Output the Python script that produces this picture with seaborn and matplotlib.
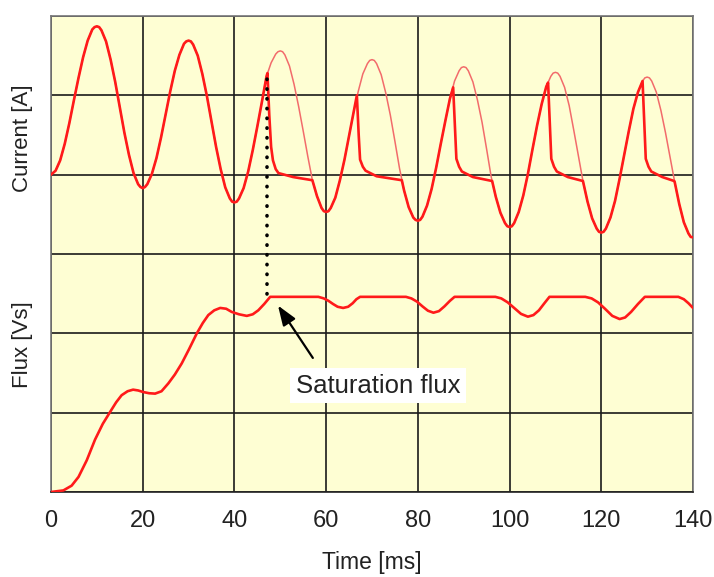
import matplotlib
matplotlib.use("Agg")
import matplotlib.pyplot as plt
import seaborn as sns

# grid units: 6 rows, current lives in rows 3..6, flux in rows 0..3
# current without saturation (thin curve), 1 ms steps
t_free = list(range(0, 141))
i_free = [4.00, 4.05, 4.18, 4.39, 4.65, 4.94, 5.22, 5.48, 5.69, 5.83, 5.87,
          5.82, 5.68, 5.45, 5.17, 4.85, 4.53, 4.25, 4.02, 3.88, 3.83,
          3.88, 4.01, 4.21, 4.47, 4.76, 5.05, 5.31, 5.51, 5.65, 5.69,
          5.64, 5.50, 5.27, 4.99, 4.67, 4.35, 4.07, 3.84, 3.70, 3.65,
          3.70, 3.83, 4.04, 4.31, 4.61, 4.92, 5.24, 5.41, 5.52, 5.56,
          5.51, 5.37, 5.14, 4.86, 4.55, 4.23, 3.93, 3.73, 3.58, 3.53,
          3.58, 3.71, 3.93, 4.19, 4.49, 4.79, 5.05, 5.27, 5.40, 5.45,
          5.40, 5.26, 5.03, 4.75, 4.42, 4.08, 3.80, 3.59, 3.46, 3.42,
          3.47, 3.61, 3.82, 4.09, 4.39, 4.68, 4.96, 5.18, 5.31, 5.36,
          5.31, 5.17, 4.94, 4.66, 4.32, 3.97, 3.72, 3.52, 3.39, 3.34,
          3.39, 3.53, 3.74, 4.01, 4.32, 4.62, 4.89, 5.11, 5.24, 5.29,
          5.24, 5.10, 4.87, 4.56, 4.24, 3.92, 3.66, 3.45, 3.32, 3.27,
          3.32, 3.46, 3.67, 3.95, 4.25, 4.55, 4.83, 5.04, 5.18, 5.23,
          5.18, 5.04, 4.81, 4.53, 4.22, 3.91, 3.63, 3.40, 3.26, 3.21]
# extra readings around the rounded tops and bottoms
t_round = [9.5, 10.5, 19.5, 20.5, 29.5, 30.5, 39.5, 40.5, 49.5, 50.5,
           59.5, 60.5, 69.5, 70.5, 79.5, 80.5, 89.5, 90.5, 99.5, 100.5,
           109.5, 110.5, 119.5, 120.5, 129.5, 130.5, 139.5]
i_round = [5.86, 5.86, 3.845, 3.845, 5.68, 5.68, 3.66, 3.66, 5.55, 5.55,
           3.54, 3.54, 5.44, 5.44, 3.43, 3.43, 5.35, 5.35, 3.35, 3.35,
           5.28, 5.28, 3.28, 3.28, 5.22, 5.22, 3.215]

# actual current: saturation collapses at 47.2, 66.7, 87.7, 108.4, 129.0 ms
t_sat = [
    [47.2, 47.6, 48.0, 48.4, 49.0, 49.6, 52.8, 57.0],
    [66.7, 67.1, 67.4, 68.0, 68.6, 71.0, 76.5],
    [87.7, 88.1, 88.4, 89.0, 89.6, 92.0, 96.2],
    [108.4, 108.8, 109.1, 109.7, 110.3, 112.7, 116.0],
    [129.0, 129.4, 129.7, 130.3, 130.9, 133.3, 135.9],
]
i_sat = [
    [5.28, 4.75, 4.35, 4.18, 4.07, 4.02, 3.97, 3.93],
    [5.00, 4.50, 4.19, 4.10, 4.05, 3.98, 3.93],
    [5.10, 4.60, 4.20, 4.10, 4.04, 3.97, 3.92],
    [5.16, 4.60, 4.20, 4.10, 4.04, 3.97, 3.92],
    [5.18, 4.60, 4.20, 4.10, 4.04, 3.97, 3.92],
]

t_flux = [0, 2.7, 4.5, 6.0, 7.8, 9.6, 11.3, 12.9, 14.2, 15.4, 16.7, 17.9, 19.0,
          20.1, 21.4, 22.7, 24.1, 25.6, 27.0, 28.5, 30.1, 31.8, 33.1, 34.3,
          35.6, 36.9, 38.2, 39.4, 41.0, 42.7, 44.0, 45.2, 46.5, 47.8,
          58.3, 59.5, 60.5, 61.5, 62.5, 63.7, 64.8, 65.8, 66.6, 67.4,
          77.4, 78.6, 79.8, 81.0, 82.2, 83.4, 84.6, 85.8, 87.0, 88.0,
          96.9, 98.2, 99.6, 101.0, 102.5, 104.0, 105.2, 106.4, 107.6, 108.7,
          116.5, 117.9, 119.3, 120.8, 122.4, 124.0, 125.2, 126.5, 128.0, 129.5,
          136.8, 138.0, 139.0, 140.0]
flux = [0.00, 0.02, 0.08, 0.19, 0.40, 0.66, 0.86, 1.01, 1.13, 1.22, 1.27, 1.29, 1.28,
        1.26, 1.245, 1.24, 1.27, 1.37, 1.48, 1.62, 1.80, 2.00, 2.13, 2.23,
        2.29, 2.32, 2.31, 2.27, 2.24, 2.22, 2.24, 2.29, 2.37, 2.46,
        2.46, 2.44, 2.41, 2.37, 2.335, 2.32, 2.335, 2.38, 2.43, 2.46,
        2.46, 2.44, 2.40, 2.34, 2.285, 2.26, 2.28, 2.34, 2.41, 2.46,
        2.46, 2.44, 2.39, 2.32, 2.245, 2.21, 2.23, 2.29, 2.38, 2.46,
        2.46, 2.44, 2.39, 2.31, 2.22, 2.18, 2.20, 2.27, 2.37, 2.46,
        2.46, 2.43, 2.38, 2.32]

x_ticks = [0, 20, 40, 60, 80, 100, 120, 140]
sat_time = 47.2
sat_peak = 5.2
sat_flux = 2.5

# merge the rounding readings into the free curve
free = sorted(zip(t_free + t_round, i_free + i_round))
t_all = [p[0] for p in free]
i_all = [p[1] for p in free]

# stitch the actual current from the free curve and the collapse segments
t_cur, i_cur = [], []
pos = 0
for ts, vs in zip(t_sat, i_sat):
    while t_all[pos] < ts[0]:
        t_cur.append(t_all[pos]); i_cur.append(i_all[pos]); pos += 1
    t_cur += ts; i_cur += vs
    while t_all[pos] <= ts[-1]:
        pos += 1
t_cur += t_all[pos:]; i_cur += i_all[pos:]

sns.set_style("white")
plt.rcParams["font.family"] = ["Liberation Sans", "DejaVu Sans"]

fig = plt.figure(figsize=(7.14, 5.77), dpi=100)
ax = fig.add_axes([51/714, 1-492/577, 642/714, 476/577])
ax.set_facecolor("#FEFED3")

sns.lineplot(x=t_all, y=i_all, ax=ax, color="#F26B6B", linewidth=1.1,
             estimator=None, sort=False, zorder=3)
sns.lineplot(x=t_cur, y=i_cur, ax=ax, color="#FF1A1A", linewidth=1.9,
             estimator=None, sort=False, zorder=4)
sns.lineplot(x=t_flux, y=flux, ax=ax, color="#FF1A1A", linewidth=1.9,
             estimator=None, sort=False, zorder=4)
for ln in ax.get_lines():
    ln.set_solid_joinstyle("round")

ax.vlines(sat_time, sat_flux, sat_peak, colors="black", linestyles=(0, (0.1, 2.6)),
          linewidth=2.6, capstyle="round", zorder=5)

ax.annotate("", xy=(49.5, 2.35), xytext=(57.1, 1.69),
            arrowprops=dict(arrowstyle="-|>,head_length=0.6,head_width=0.22",
                            color="black", lw=1.6, mutation_scale=20,
                            shrinkA=0, shrinkB=0), zorder=6)
ax.text(71.3, 1.34, "Saturation flux", ha="center", va="center", fontsize=18.5,
        color="#222222", zorder=6,
        bbox=dict(boxstyle="square,pad=0.22", fc="white", ec="none"))

ax.set_xlim(0, 140)
ax.set_ylim(0, 6)
ax.set_xticks(x_ticks)
ax.set_yticks(range(0, 7))
ax.set_yticklabels([])
ax.tick_params(axis="y", length=0)
ax.tick_params(axis="x", direction="out", length=6, width=1.2, color="#222222",
               labelsize=17, labelcolor="#222222", pad=7)
ax.grid(True, color="#1a1a1a", linewidth=1.2)
ax.set_axisbelow(True)
for s in ax.spines.values():
    s.set_color("#777777")
    s.set_linewidth(1.2)
ax.spines["bottom"].set_color("#222222")

ax.set_xlabel("Time [ms]", fontsize=16.5, color="#222222", labelpad=14)
ax.set_ylabel("")
fig.text(23/714, 1-138/577, "Current [A]", rotation=90, ha="center", va="center",
         fontsize=16, color="#222222")
fig.text(23/714, 1-345/577, "Flux [Vs]", rotation=90, ha="center", va="center",
         fontsize=16, color="#222222")

fig.savefig("out.png", dpi=100)
